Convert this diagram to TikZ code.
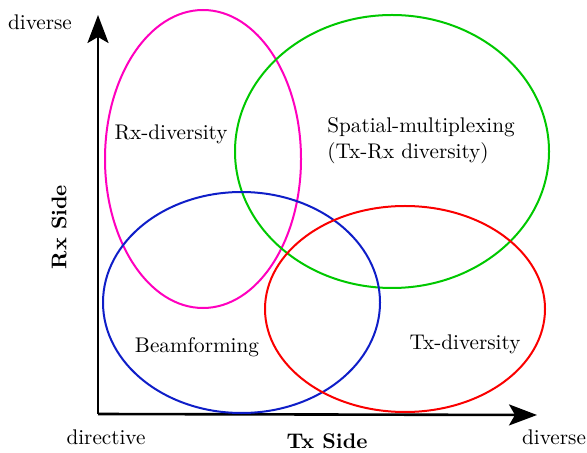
\documentclass[tikz,border=0pt]{standalone}
\usetikzlibrary{arrows.meta}
\definecolor{cmag}{RGB}{255,0,190}
\definecolor{cgreen}{RGB}{0,200,0}
\definecolor{cblue}{RGB}{15,30,200}
\definecolor{cred}{RGB}{250,0,0}
\begin{document}
\begin{tikzpicture}[x=0.5pt,y=-0.5pt,
  axis/.style={line width=1.3pt,-{Stealth[length=14pt,width=10.5pt,inset=3pt]}},
  set/.style={line width=1pt},
  lbl/.style={font=\fontsize{10.6}{13}\selectfont,inner sep=0pt},
  axlbl/.style={font=\fontsize{10.6}{13}\selectfont\bfseries,inner sep=0pt}]
\useasboundingbox (0,0) rectangle (587,453);
% axes
\coordinate (o) at (98,414);
\coordinate (ytop) at (98,15);
\coordinate (xend) at (537,415);
\draw[axis] (o) -- (ytop);
\draw[axis] (o) -- (xend);
% sets
\draw[set,cmag] (203,159) ellipse [x radius=98, y radius=149];
\draw[set,cgreen] (392,151.5) ellipse [x radius=157, y radius=136.5];
\draw[set,cblue] (241.5,302.5) ellipse [x radius=138.5, y radius=110.5];
\draw[set,cred] (405,309) ellipse [x radius=140, y radius=103];
% labels
\node[lbl] (ydiv) at (40,22) {diverse};
\node[lbl] (dir) at (106,437) {directive};
\node[lbl] (xdiv) at (554,437) {diverse};
\node[axlbl] (tx) at (327,441) {Tx Side};
\node[axlbl,rotate=90] (rx) at (59,227) {Rx Side};
\node[lbl] (rxd) at (171,134) {Rx-diversity};
\node[lbl,align=left,anchor=west] (sm) at (327,141) {Spatial-multiplexing\\(Tx-Rx diversity)};
\node[lbl] (bf) at (197,347) {Beamforming};
\node[lbl] (txd) at (465,344) {Tx-diversity};
\end{tikzpicture}
\end{document}
